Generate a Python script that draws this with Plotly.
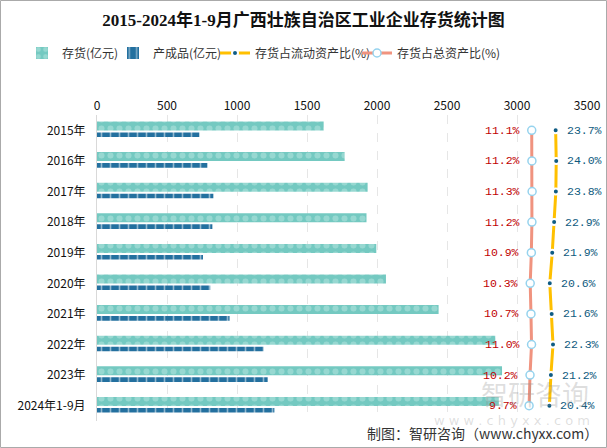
import plotly.graph_objects as go

years = ["2015年", "2016年", "2017年", "2018年", "2019年", "2020年",
         "2021年", "2022年", "2023年", "2024年1-9月"]
inventory = [1619, 1769, 1933, 1925, 1995, 2064, 2440, 2845, 2893, 2870]
finished = [731, 788, 831, 824, 757, 809, 947, 1190, 1219, 1267]
current_ratio = [23.7, 24.0, 23.8, 22.9, 21.9, 20.6, 21.6, 22.3, 21.2, 20.4]
total_ratio = [11.1, 11.2, 11.3, 11.2, 10.9, 10.3, 10.7, 11.0, 10.2, 9.7]
x_ticks = [0, 500, 1000, 1500, 2000, 2500, 3000, 3500]

W, H = 607, 448
L, R, T, B = 97, 20, 115, 27
PW, PH = W - L - R, H - T - B

def px(x):
    return (x - L) / PW

def py(y):
    return (H - B - y) / PH

CJK = "Noto Sans CJK SC"
fig = go.Figure()

fig.add_trace(go.Bar(
    name="存货(亿元)", y=years, x=inventory, orientation="h",
    width=0.294, offset=-0.288, legend="legend",
    marker=dict(color="#74c9c1", line=dict(width=0),
                pattern=dict(shape=".", fgcolor="#b9e7e2", bgcolor="#74c9c1",
                             size=9, solidity=0.35)),
    xaxis="x", yaxis="y", hoverinfo="skip"))
fig.add_trace(go.Bar(
    name="产成品(亿元)", y=years, x=finished, orientation="h",
    width=0.15, offset=0.072, legend="legend2",
    marker=dict(color="#23709f", line=dict(width=0),
                pattern=dict(shape="|", fgcolor="#ffffff", bgcolor="#23709f",
                             size=9, solidity=0.18)),
    xaxis="x", yaxis="y", hoverinfo="skip"))
fig.add_trace(go.Scatter(
    name="存货占流动资产比(%)", y=years, x=current_ratio, mode="lines+markers",
    legend="legend3",
    line=dict(color="#ffc000", width=3),
    marker=dict(color="#0f5c84", size=6, line=dict(color="#ffffff", width=2)),
    xaxis="x2", yaxis="y", hoverinfo="skip"))
fig.add_trace(go.Scatter(
    name="存货占总资产比(%)", y=years, x=total_ratio, mode="lines+markers",
    legend="legend4",
    line=dict(color="#f0937f", width=3),
    marker=dict(color="#ffffff", size=8, line=dict(color="#96d3ee", width=1.5)),
    xaxis="x2", yaxis="y", hoverinfo="skip"))

annotations = []
for yr, v in zip(years, total_ratio):
    annotations.append(dict(x=v, y=yr, xref="x2", yref="y", text=f"{v:.1f}%",
                            showarrow=False, xanchor="right", yanchor="middle",
                            xshift=-10, font=dict(family="Liberation Mono", size=11.5, color="#c00000")))
for yr, v in zip(years, current_ratio):
    annotations.append(dict(x=v, y=yr, xref="x2", yref="y", text=f"{v:.1f}%",
                            showarrow=False, xanchor="left", yanchor="middle",
                            xshift=9, font=dict(family="Liberation Mono", size=11.5, color="#0e5a7e")))

# watermark
annotations.append(dict(x=px(535), y=py(393), xref="paper", yref="paper", text="智研咨询",
                        xanchor="center", yanchor="middle",
                        showarrow=False, font=dict(family=CJK, size=27, color="rgba(140,140,140,0.28)")))
annotations.append(dict(x=px(512), y=py(420), xref="paper", yref="paper",
                        text="w w w . c h y x x . c o m", showarrow=False,
                        xanchor="center", yanchor="middle",
                        font=dict(family="DejaVu Sans", size=13, color="rgba(140,140,140,0.28)")))
# footer
annotations.append(dict(x=px(600), y=py(433), xref="paper", yref="paper",
                        text="制图：智研咨询（www.chyxx.com）", showarrow=False,
                        xanchor="right", yanchor="middle",
                        font=dict(family=CJK, size=14, color="#333333")))

shapes = [dict(type="rect", xref="paper", yref="paper",
               x0=px(0.5), x1=px(W - 0.5), y0=py(0.5), y1=py(H - 0.5),
               line=dict(color="#aaaaaa", width=1), fillcolor="rgba(0,0,0,0)", layer="below")]

def leg(xpix):
    return dict(orientation="h", x=px(xpix), xanchor="left", y=py(53), yanchor="middle",
                font=dict(family=CJK, size=12, color="#333333"),
                bgcolor="rgba(0,0,0,0)", itemwidth=30)

fig.update_layout(
    width=W, height=H,
    margin=dict(l=L, r=R, t=T, b=B, autoexpand=False),
    paper_bgcolor="white", plot_bgcolor="white",
    title=dict(text="<b>2015-2024年1-9月广西壮族自治区工业企业存货统计图</b>",
               x=0.5, xanchor="center", xref="container",
               y=1 - 20 / H, yanchor="middle", yref="container",
               font=dict(family="Liberation Serif, " + CJK, size=17, color="#111111")),
    barmode="overlay",
    showlegend=True,
    legend=leg(22), legend2=leg(113), legend3=leg(215), legend4=leg(357),
    xaxis=dict(range=[0, 3500], side="top", tickvals=x_ticks, automargin=False,
               showgrid=True, gridcolor="#e6e6e6", griddash="dash", gridwidth=1,
               zeroline=False, showline=False, ticks="",
               tickfont=dict(family=CJK, size=12, color="#111111"), ticklabelstandoff=2),
    xaxis2=dict(range=[-217.8, 40.2], overlaying="x", side="top", visible=False,
                showgrid=False, zeroline=False, automargin=False),
    yaxis=dict(type="category", categoryorder="array", categoryarray=years,
               range=[9.5, -0.5], showgrid=False, zeroline=False, automargin=False,
               showline=True, linecolor="#d9d9d9", linewidth=1, ticks="",
               tickfont=dict(family=CJK, size=12, color="#111111"), ticklabelstandoff=8),
    annotations=annotations,
    shapes=shapes,
)

fig.write_html("out.html", config=dict(displayModeBar=False),
               post_script="document.body.style.margin='0';document.body.style.overflow='hidden';")
